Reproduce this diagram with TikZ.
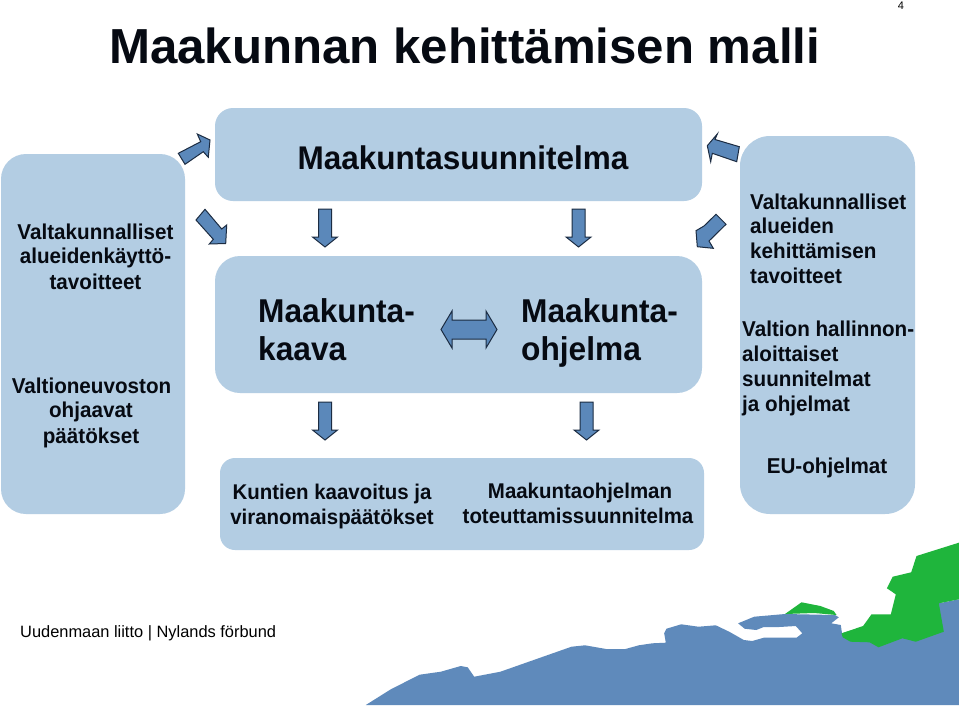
\documentclass[tikz,border=0pt]{standalone}
\usepackage{fontspec}
\setmainfont{Liberation Sans}
\newfontfamily\tightbold[FakeStretch=0.96]{Liberation Sans}
\begin{document}
\begin{tikzpicture}[x=1pt,y=-1pt,
  panel/.style={fill=panelblue,draw=none},
  blockarrow/.style={fill=arrowblue,draw=arrowedge,line width=1pt,line join=miter},
  lbl/.style={font=\fontsize{#1}{#1}\selectfont\tightbold\bfseries,text=inkdark,inner sep=0pt,anchor=base west},
  clbl/.style={font=\fontsize{#1}{#1}\selectfont\tightbold\bfseries,text=inkdark,inner sep=0pt,anchor=base}]
\definecolor{panelblue}{HTML}{B3CDE3}
\definecolor{arrowblue}{HTML}{5B88BA}
\definecolor{arrowedge}{HTML}{1C2C42}
\definecolor{mapblue}{HTML}{5F8ABB}
\definecolor{mapgreen}{HTML}{1FB53C}
\definecolor{inkdark}{HTML}{060A12}
\useasboundingbox (0,0) rectangle (960,707);
\fill[white] (0,0) rectangle (960,707);
% panels
\fill[panel,rounded corners=25] (1,154) rectangle (185,514);
\fill[panel,rounded corners=18] (215,108) rectangle (702,201);
\fill[panel,rounded corners=25] (215,256) rectangle (702,393);
\fill[panel,rounded corners=15] (220,458) rectangle (704,550);
\fill[panel,rounded corners=30] (740,136) rectangle (915,514);
% down arrows
\foreach \cx/\ty in {325/209,578.5/209,325/402,586.5/402}{
  \draw[blockarrow] (\cx-6.5,\ty) -- (\cx+6.5,\ty) -- (\cx+6.5,\ty+28) -- (\cx+12.5,\ty+28)
    -- (\cx,\ty+38) -- (\cx-12.5,\ty+28) -- (\cx-6.5,\ty+28) -- cycle;}
% double arrow
\draw[blockarrow] (441,329.5) -- (452,311) -- (452,320) -- (486,320) -- (486,311) -- (497,329.5)
  -- (486,348) -- (486,339) -- (452,339) -- (452,348) -- cycle;
% diagonal arrows
\draw[blockarrow] (178.3,153.3) -- (200.7,141.7) -- (197.3,134) -- (210,140) -- (208.3,157.3) -- (203.3,151.7) -- (185,164.3) -- cycle;
\draw[blockarrow] (196,220) -- (205,209.3) -- (221.7,229) -- (226.7,225) -- (225.7,243.5) -- (209.3,244) -- (213.3,239.3) -- cycle;
\draw[blockarrow] (707.3,145.7) -- (717.3,134) -- (715,139.5) -- (739.3,146.7) -- (736.7,161.7) -- (712.3,153.3) -- (710.7,161.7) -- cycle;
\draw[blockarrow] (716,214.3) -- (726,224.3) -- (709,241) -- (713.3,248.3) -- (697.3,246.7) -- (696,230.7) -- (704,226) -- cycle;
% map
\fill[mapblue] (365.8,705) -- (390.8,689.3) -- (419.6,674.7) -- (440.8,671.7) -- (460.8,666) -- (467.7,667.3) -- (474.2,676.7)
 -- (500.4,671.7) -- (571.5,646.7) -- (585,645.3) -- (606.2,649) -- (625.4,649) -- (638.8,645.3) -- (652.3,643.3) -- (665.8,642.7)
 -- (664.2,633.3) -- (666.5,628.7) -- (681.2,624.3) -- (698.5,626.7) -- (715.8,625.3) -- (729.2,631.7) -- (743.8,640) -- (752.3,641) -- (763.8,637.7)
 -- (796.5,637.7) -- (802.3,633.3) -- (795.8,626) -- (779.2,627) -- (763.8,627) -- (756.2,630) -- (744.6,628.7) -- (738.1,623.3) -- (754.2,616.7)
 -- (785,614) -- (835,615) -- (838.8,617.3) -- (831.2,623.3) -- (840.8,625) -- (842,633.3) -- (938.8,603.3) -- (958.8,599.3) -- (958.8,705) -- cycle;
\fill[mapgreen] (958.8,542.7) -- (916.5,556) -- (911.2,572.3) -- (892.7,576.7) -- (886.9,588.3) -- (895.8,594.3) -- (890.8,614.3) -- (871.5,614.3)
 -- (863.1,626) -- (841.5,633.3) -- (842.7,637.3) -- (850.4,641.7) -- (869.6,642.3) -- (878.5,647.3) -- (902.3,638.3) -- (915.8,641.7) -- (943.8,631.7)
 -- (938.8,603.3) -- (958.8,599.3) -- cycle;
\fill[mapgreen] (785,614) -- (801.5,602.3) -- (820.4,606) -- (833.8,611) -- (836.5,615) -- (814,613) -- cycle;
% text
\node[inner sep=0pt,anchor=base west,text=inkdark,font=\fontsize{49.2}{49.2}\selectfont\bfseries] (title) at (109,63) {Maakunnan kehittämisen malli};
\node[inner sep=0pt,anchor=base,font=\fontsize{11}{11}\selectfont] (pageno) at (901,9) {4};
\node[clbl=32.8] (plan) at (463,169) {Maakuntasuunnitelma};
\node[clbl=21.5] (l1) at (95.5,239) {Valtakunnalliset};
\node[clbl=21.5] (l2) at (95.5,263) {alueidenkäyttö-};
\node[clbl=21.5] (l3) at (95.5,289) {tavoitteet};
\node[clbl=21.5] (l4) at (91.5,393) {Valtioneuvoston};
\node[clbl=21.5] (l5) at (91,417) {ohjaavat};
\node[clbl=21.5] (l6) at (91,443) {päätökset};
\node[lbl=33] (k1) at (258,322) {Maakunta-};
\node[lbl=33] (k2) at (258,360) {kaava};
\node[lbl=33] (o1) at (521,322) {Maakunta-};
\node[lbl=33] (o2) at (521,360) {ohjelma};
\node[clbl=21.3] (b1) at (332,499) {Kuntien kaavoitus ja};
\node[clbl=21.3] (b2) at (332,524) {viranomaispäätökset};
\node[clbl=21.3] (b3) at (580,498) {Maakuntaohjelman};
\node[clbl=21.3] (b4) at (578,523) {toteuttamissuunnitelma};
\node[lbl=21.5] (r1) at (750,209) {Valtakunnalliset};
\node[lbl=21.5] (r2) at (750,233) {alueiden};
\node[lbl=21.5] (r3) at (750,258) {kehittämisen};
\node[lbl=21.5] (r4) at (750,283) {tavoitteet};
\node[lbl=21.5] (r5) at (742,336) {Valtion hallinnon-};
\node[lbl=21.5] (r6) at (742,361) {aloittaiset};
\node[lbl=21.5] (r7) at (742,386) {suunnitelmat};
\node[lbl=21.5] (r8) at (742,411) {ja ohjelmat};
\node[clbl=21.5] (r9) at (827,473) {EU-ohjelmat};
\node[inner sep=0pt,anchor=base west,font=\fontsize{16.4}{16.4}\selectfont] (foot) at (20,637) {Uudenmaan liitto | Nylands förbund};
\end{tikzpicture}
\end{document}
